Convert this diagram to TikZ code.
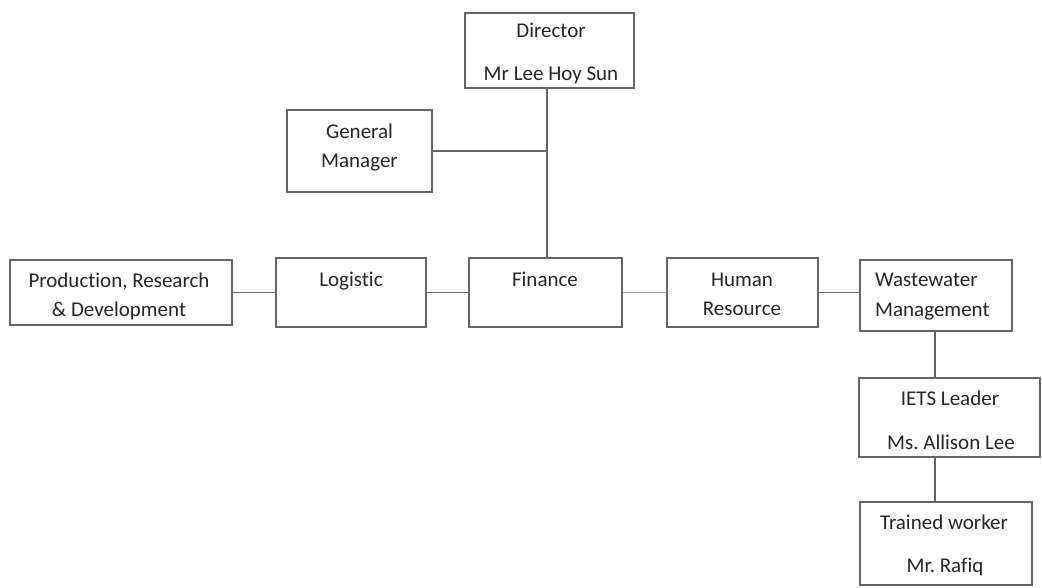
\documentclass[tikz,border=0pt]{standalone}
\usepackage{fontspec}
\setmainfont{Carlito}[Ligatures=NoCommon]
\frenchspacing
\begin{document}
\begin{tikzpicture}[x=1pt,y=-1pt,
  box/.style={draw=black!60, line width=1.1pt, fill=none, inner sep=0pt},
  txt/.style={anchor=base, inner sep=0pt, text=black!85, font=\fontsize{21}{25}\selectfont},
  link/.style={draw=black!60, line width=1.1pt}]
\fill[white] (0,0) rectangle (1042,587);
\useasboundingbox (0,0) rectangle (1042,587);
% boxes
\node[box, minimum width=169, minimum height=75] (dir) at (549.5,50.5) {};
\node[box, minimum width=145, minimum height=82] (gm) at (359.5,151) {};
\node[box, minimum width=222, minimum height=65] (prd) at (121,292.5) {};
\node[box, minimum width=150, minimum height=69] (log) at (351,292.5) {};
\node[box, minimum width=153, minimum height=69] (fin) at (545.5,292.5) {};
\node[box, minimum width=151, minimum height=69] (hr) at (742.5,292.5) {};
\node[box, minimum width=152, minimum height=71] (wm) at (936,295.5) {};
\node[box, minimum width=181, minimum height=79] (iets) at (949.5,417.5) {};
\node[box, minimum width=172, minimum height=83] (tw) at (946,543.5) {};
% texts
\node[txt] (t1) at (551,37) {Director};
\node[txt] (t2) at (551,80) {Mr Lee Hoy Sun};
\node[txt] (t3) at (359.5,138) {General};
\node[txt] (t4) at (359.5,167) {Manager};
\node[txt] (t5) at (119,287) {Production, Research};
\node[txt] (t6) at (119,316) {\& Development};
\node[txt] (t7) at (351,286) {Logistic};
\node[txt] (t8) at (545,286) {Finance};
\node[txt] (t9) at (742,286) {Human};
\node[txt] (t10) at (742,315) {Resource};
\node[txt, anchor=base west] (t11) at (875,286) {Wastewater};
\node[txt, anchor=base west] (t12) at (875,316) {Management};
\node[txt] (t13) at (950,405) {IETS Leader};
\node[txt] (t14) at (951,449) {Ms. Allison Lee};
\node[txt] (t15) at (944,529) {Trained worker};
\node[txt] (t16) at (945,572) {Mr. Rafiq};
% connectors
\draw[link] (dir.south -| fin.north) ++(1.5,0) coordinate (dtop) -- (dtop |- fin.north);
\draw[link] (gm.east) -- (gm.east -| dtop);
\draw[link] (prd.east) -- (prd.east -| log.west);
\draw[link] (log.east) -- (log.east -| fin.west);
\draw[draw=black!35, line width=1.4pt] (fin.east) -- (fin.east -| hr.west);
\draw[link] (hr.east) -- (hr.east -| wm.west);
\draw[link] (wm.south) ++(-1,0) coordinate (wb) -- (wb |- iets.north);
\draw[link] (wb |- iets.south) -- (wb |- tw.north);
\end{tikzpicture}
\end{document}
